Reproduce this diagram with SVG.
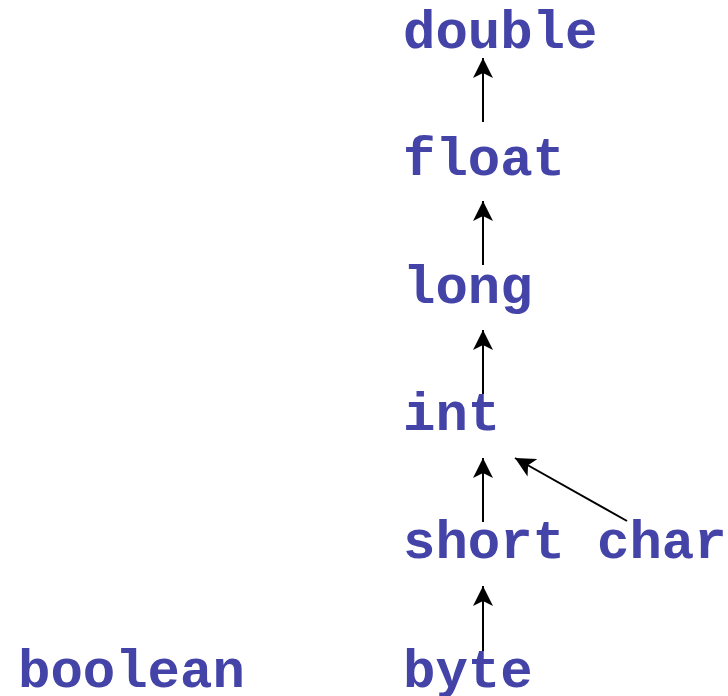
<svg xmlns="http://www.w3.org/2000/svg" width="728" height="696" viewBox="0 0 728 696">
<style>
.t{font-family:"Liberation Mono","Courier New",monospace;font-weight:bold;font-size:54px;fill:#4343A8}
.c{stroke:#000;stroke-width:2;fill:none;marker-end:url(#ah)}
</style>
<defs>
<marker id="ah" viewBox="0 0 20 20" refX="20" refY="10" markerWidth="20" markerHeight="20" markerUnits="userSpaceOnUse" orient="auto">
<path d="M0,0 L20,10 L0,20 L5,10 Z" fill="#000"/>
</marker>
</defs>
<rect width="728" height="696" fill="#fff"/>
<g id="connectors">
<line class="c" x1="483" y1="122" x2="483" y2="58"/>
<line class="c" x1="483" y1="265" x2="483" y2="201"/>
<line class="c" x1="483" y1="394" x2="483" y2="330"/>
<line class="c" x1="483" y1="522" x2="483" y2="458"/>
<line class="c" x1="483" y1="651" x2="483" y2="586"/>
<line class="c" x1="627" y1="521" x2="515" y2="458"/>
</g>
<g id="double"><text class="t" x="403" y="48">double</text></g>
<g id="float"><text class="t" x="403" y="175">float</text></g>
<g id="long"><text class="t" x="403" y="303">long</text></g>
<g id="int"><text class="t" x="403" y="430">int</text></g>
<g id="short"><text class="t" x="403" y="558">short</text></g>
<g id="char"><text class="t" x="597" y="558">char</text></g>
<g id="byte"><text class="t" x="403" y="687">byte</text></g>
<g id="boolean"><text class="t" x="18" y="687">boolean</text></g>
</svg>
